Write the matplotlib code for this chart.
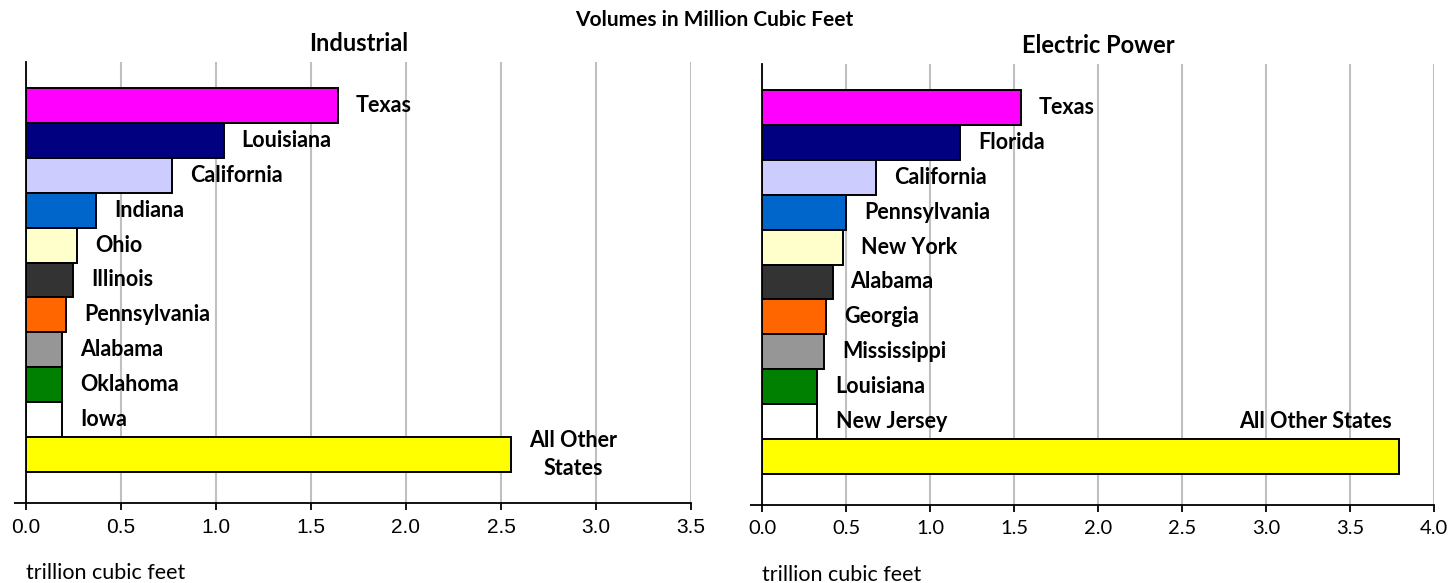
import matplotlib
matplotlib.use('Agg')
import matplotlib.pyplot as plt
from matplotlib.ticker import FormatStrFormatter
import numpy as np

# --- data (trillion cubic feet) ---
ind_states = ['Texas', 'Louisiana', 'California', 'Indiana', 'Ohio', 'Illinois',
              'Pennsylvania', 'Alabama', 'Oklahoma', 'Iowa', 'All Other\nStates']
ind_values = [1.64, 1.04, 0.77, 0.37, 0.27, 0.25, 0.21, 0.19, 0.19, 0.19, 2.55]

elec_states = ['Texas', 'Florida', 'California', 'Pennsylvania', 'New York', 'Alabama',
               'Georgia', 'Mississippi', 'Louisiana', 'New Jersey', 'All Other States']
elec_values = [1.54, 1.18, 0.68, 0.50, 0.48, 0.42, 0.38, 0.37, 0.33, 0.33, 3.79]

bar_colors = ['#FF00FF', '#000080', '#CCCCFF', '#0066CC', '#FFFFCC', '#333333',
              '#FF6600', '#969696', '#008000', '#FFFFFF', '#FFFF00']

LABEL_FONT = 'Lato'

fig = plt.figure(figsize=(14.52, 5.83), dpi=100)
ax1 = fig.add_axes([0.0179, 0.1372, 0.458, 0.7564])
ax2 = fig.add_axes([0.5248, 0.1338, 0.4628, 0.7564])

Y_TOP, Y_BOT = -1.245, 11.39


def draw_panel(ax, states, values, xmax, title, tick_font, tick_size):
    y = np.arange(len(states))
    ax.barh(y, values, height=1.0, color=bar_colors, edgecolor='black',
            linewidth=1.4, zorder=3)
    ax.set_xlim(0, xmax)
    ax.set_ylim(Y_BOT, Y_TOP)
    ax.set_xticks(np.arange(0, xmax + 0.01, 0.5))
    ax.xaxis.set_major_formatter(FormatStrFormatter('%.1f'))
    ax.grid(axis='x', color='#C0C0C0', linewidth=1.5, zorder=0)
    ax.set_axisbelow(True)
    for s in ['top', 'right']:
        ax.spines[s].set_visible(False)
    ax.spines['left'].set_linewidth(1.3)
    ax.spines['bottom'].set_linewidth(1.3)
    ax.tick_params(axis='x', direction='out', length=5, width=1.3, pad=6,
                   labelsize=tick_size)
    # small tick at bottom of y axis (Excel-style cross)
    ax.set_yticks([Y_BOT])
    ax.set_yticklabels([''])
    ax.tick_params(axis='y', direction='out', length=9, width=1.3)
    for lbl in ax.get_xticklabels():
        lbl.set_fontfamily(tick_font)
    ax.text(0.5, 1.043, title, transform=ax.transAxes, ha='center', va='center',
            fontsize=17, fontweight='bold', family=LABEL_FONT)
    ax.text(0, -0.158, 'trillion cubic feet', transform=ax.transAxes,
            fontsize=15.5, family=LABEL_FONT, ha='left', va='center')


draw_panel(ax1, ind_states, ind_values, 3.5, 'Industrial', 'Liberation Sans', 15)
draw_panel(ax2, elec_states, elec_values, 4.0, 'Electric Power', 'Lato', 14.5)

# state labels to the right of each bar
for ax, states, values in [(ax1, ind_states, ind_values), (ax2, elec_states, elec_values)]:
    for i, (name, v) in enumerate(zip(states[:-1], values[:-1])):
        ax.annotate(name, xy=(v, i), xytext=(13, 0), textcoords='offset points',
                    ha='left', va='center', fontsize=15.5, fontweight='bold',
                    family=LABEL_FONT)

ax1.annotate(ind_states[-1], xy=(ind_values[-1], len(ind_states) - 1), xytext=(45, 0),
             textcoords='offset points', ha='center', va='center', fontsize=15.5,
             fontweight='bold', family=LABEL_FONT, linespacing=1.45)
ax2.annotate(elec_states[-1], xy=(elec_values[-1], len(elec_states) - 2), xytext=(-5, 0),
             textcoords='offset points', ha='right', va='center', fontsize=15.5,
             fontweight='bold', family=LABEL_FONT)

fig.text(0.492, 0.966, 'Volumes in Million Cubic Feet', ha='center', va='center',
         fontsize=15, fontweight='bold', family=LABEL_FONT)

fig.savefig('out.png', dpi=100)
